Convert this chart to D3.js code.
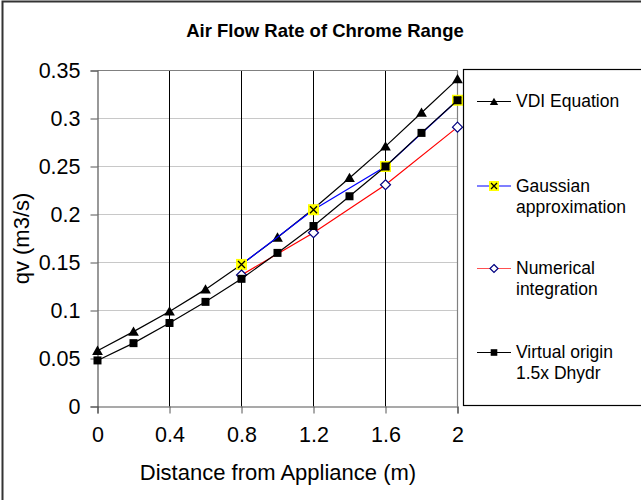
<!DOCTYPE html>
<html lang="en">
<head>
<meta charset="UTF-8">
<title>Air Flow Rate of Chrome Range</title>
<style>
  body { margin: 0; background: #fff; }
  text { font-family: "Liberation Sans", Arial, sans-serif; }
</style>
</head>
<body>
<div id="chart"></div>
<script src="https://cdnjs.cloudflare.com/ajax/libs/d3/7.8.5/d3.min.js"></script>
<script>
    // data
    const xFull = [0, 0.2, 0.4, 0.6, 0.8, 1.0, 1.2, 1.4, 1.6, 1.8, 2.0];
    const vdi = [0.058, 0.078, 0.099, 0.122, 0.148, 0.176, 0.206, 0.238, 0.271, 0.306, 0.341];
    const virtualOrigin = [0.048, 0.066, 0.087, 0.109, 0.133, 0.160, 0.188, 0.219, 0.250, 0.285, 0.319];
    const xPart = [0.8, 1.2, 1.6, 2.0];
    const gaussian = [0.148, 0.205, 0.250, 0.319];
    const numerical = [0.137, 0.181, 0.231, 0.291];

    const xTicks = [0, 0.4, 0.8, 1.2, 1.6, 2];
    const yTicks = [0, 0.05, 0.1, 0.15, 0.2, 0.25, 0.3, 0.35];
    const seriesNames = [["VDI Equation"], ["Gaussian", "approximation"], ["Numerical", "integration"], ["Virtual origin", "1.5x Dhydr"]];

    const width = 641, height = 500;
    const fontFam = "'Liberation Sans', Arial, sans-serif";
    const svg = d3.select("#chart").append("svg")
        .attr("width", width)
        .attr("height", height);

    // outer chart frame
    svg.append("rect")
        .attr("x", 2.5).attr("y", 1.5)
        .attr("width", 700).attr("height", 600)
        .attr("fill", "#fff")
        .attr("stroke", "#333").attr("stroke-width", 2);

    const x = d3.scaleLinear().domain([0, 2]).range([97.5, 457.5]);
    const y = d3.scaleLinear().domain([0, 0.35]).range([406.5, 70.5]);

    // horizontal gridlines (light)
    svg.append("g").selectAll("line")
        .data(yTicks.slice(1))
        .join("line")
        .attr("x1", x(0)).attr("x2", x(2))
        .attr("y1", d => y(d)).attr("y2", d => y(d))
        .attr("stroke", "#c8c8c8").attr("stroke-width", 1.2);

    // vertical gridlines (dark)
    svg.append("g").selectAll("line")
        .data(xTicks.slice(1, -1))
        .join("line")
        .attr("x1", d => x(d)).attr("x2", d => x(d))
        .attr("y1", y(0.35)).attr("y2", y(0))
        .attr("stroke", "#000").attr("stroke-width", 1);

    // plot border right + top
    svg.append("path")
        .attr("d", `M${x(0)},${y(0.35)}H${x(2)}V${y(0)}`)
        .attr("fill", "none").attr("stroke", "#808080").attr("stroke-width", 1.2);

    // axes
    const xAxis = d3.axisBottom(x).tickValues(xTicks).tickSize(7).tickFormat(d3.format("~g"));
    const gx = svg.append("g").attr("transform", `translate(0,${y(0)})`).call(xAxis);
    gx.select(".domain").attr("stroke", "#555").attr("stroke-width", 1.2);
    gx.selectAll(".tick line").attr("stroke", "#555");
    gx.selectAll("text").attr("font-size", 21.5).attr("fill", "#000").attr("y", 20).attr("dy", "0.71em")
        .style("font-family", fontFam);

    const yAxis = d3.axisLeft(y).tickValues(yTicks).tickSize(7).tickFormat(d3.format("~g"));
    const gy = svg.append("g").attr("transform", `translate(${x(0)},0)`).call(yAxis);
    gy.select(".domain").attr("stroke", "#555").attr("stroke-width", 1.2);
    gy.selectAll(".tick line").attr("stroke", "#555");
    gy.selectAll("text").attr("font-size", 21.5).attr("fill", "#000").attr("x", -17)
        .style("font-family", fontFam);

    // titles
    svg.append("text")
        .attr("x", 325).attr("y", 37)
        .attr("text-anchor", "middle")
        .attr("font-size", 18.5).attr("font-weight", "bold")
        .text("Air Flow Rate of Chrome Range");

    svg.append("text")
        .attr("x", 278).attr("y", 480)
        .attr("text-anchor", "middle")
        .attr("font-size", 22)
        .text("Distance from Appliance (m)");

    svg.append("text")
        .attr("transform", `translate(29,${y(0.175)}) rotate(-90)`)
        .attr("text-anchor", "middle")
        .attr("font-size", 22)
        .text("qv (m3/s)");

    const line = d3.line().x(d => x(d[0])).y(d => y(d[1]));
    const zip = (xs, ys) => xs.map((v, i) => [v, ys[i]]);

    // marker helpers
    function triangle(g, cx, cy, a) {
        g.append("path")
            .attr("d", d3.symbol(d3.symbolTriangle, a)())
            .attr("transform", `translate(${cx},${cy + 1})`)
            .attr("fill", "#000");
    }
    function xMark(g, cx, cy, s) {
        g.append("rect").attr("x", cx - s).attr("y", cy - s)
            .attr("width", 2 * s).attr("height", 2 * s).attr("fill", "#ffff00");
        g.append("path")
            .attr("d", `M${cx - s + 2},${cy - s + 2}L${cx + s - 2},${cy + s - 2}M${cx - s + 2},${cy + s - 2}L${cx + s - 2},${cy - s + 2}`)
            .attr("stroke", "#000").attr("stroke-width", 1.3);
    }
    function diamond(g, cx, cy, s) {
        g.append("path")
            .attr("d", `M${cx},${cy - s}L${cx + s},${cy}L${cx},${cy + s}L${cx - s},${cy}Z`)
            .attr("fill", "#fff").attr("stroke", "#000080").attr("stroke-width", 1.2);
    }
    function square(g, cx, cy, s) {
        g.append("rect").attr("x", cx - s).attr("y", cy - s)
            .attr("width", 2 * s).attr("height", 2 * s).attr("fill", "#000");
    }

    const series = [
        { pts: zip(xFull, vdi), color: "#000", mark: (g, cx, cy) => triangle(g, cx, cy, 50) },
        { pts: zip(xPart, gaussian), color: "#0000ff", mark: (g, cx, cy) => xMark(g, cx, cy, 5.5) },
        { pts: zip(xPart, numerical), color: "#ff0000", mark: (g, cx, cy) => diamond(g, cx, cy, 5) },
        { pts: zip(xFull, virtualOrigin), color: "#000", mark: (g, cx, cy) => square(g, cx, cy, 4) }
    ];

    series.forEach(s => {
        const g = svg.append("g");
        g.append("path")
            .attr("d", line(s.pts))
            .attr("fill", "none")
            .attr("stroke", s.color).attr("stroke-width", 1.2);
        s.pts.forEach(p => s.mark(g, x(p[0]), y(p[1])));
    });

    // legend
    svg.append("rect")
        .attr("x", 463.5).attr("y", 69.5)
        .attr("width", 300).attr("height", 336)
        .attr("fill", "#fff").attr("stroke", "#000").attr("stroke-width", 1.2);

    const legendY = [101.5, 186, 268.5, 352.5];
    series.forEach((s, i) => {
        const g = svg.append("g");
        const ly = legendY[i];
        g.append("line")
            .attr("x1", 477).attr("x2", 511)
            .attr("y1", ly).attr("y2", ly)
            .attr("stroke", s.color === "#ff0000" ? "#ff5050" : s.color).attr("stroke-width", 1.2);
        if (i === 0) triangle(g, 494, ly, 30);
        if (i === 1) xMark(g, 494, ly, 5);
        if (i === 2) diamond(g, 494, ly, 4);
        if (i === 3) square(g, 494, ly, 3.3);
        g.append("text")
            .attr("x", 516).attr("y", ly + 5.5)
            .attr("font-size", 17.5)
            .selectAll("tspan")
            .data(seriesNames[i])
            .join("tspan")
            .attr("x", 516)
            .attr("dy", (d, j) => j === 0 ? 0 : 21)
            .text(d => d);
    });
</script>
</body>
</html>
